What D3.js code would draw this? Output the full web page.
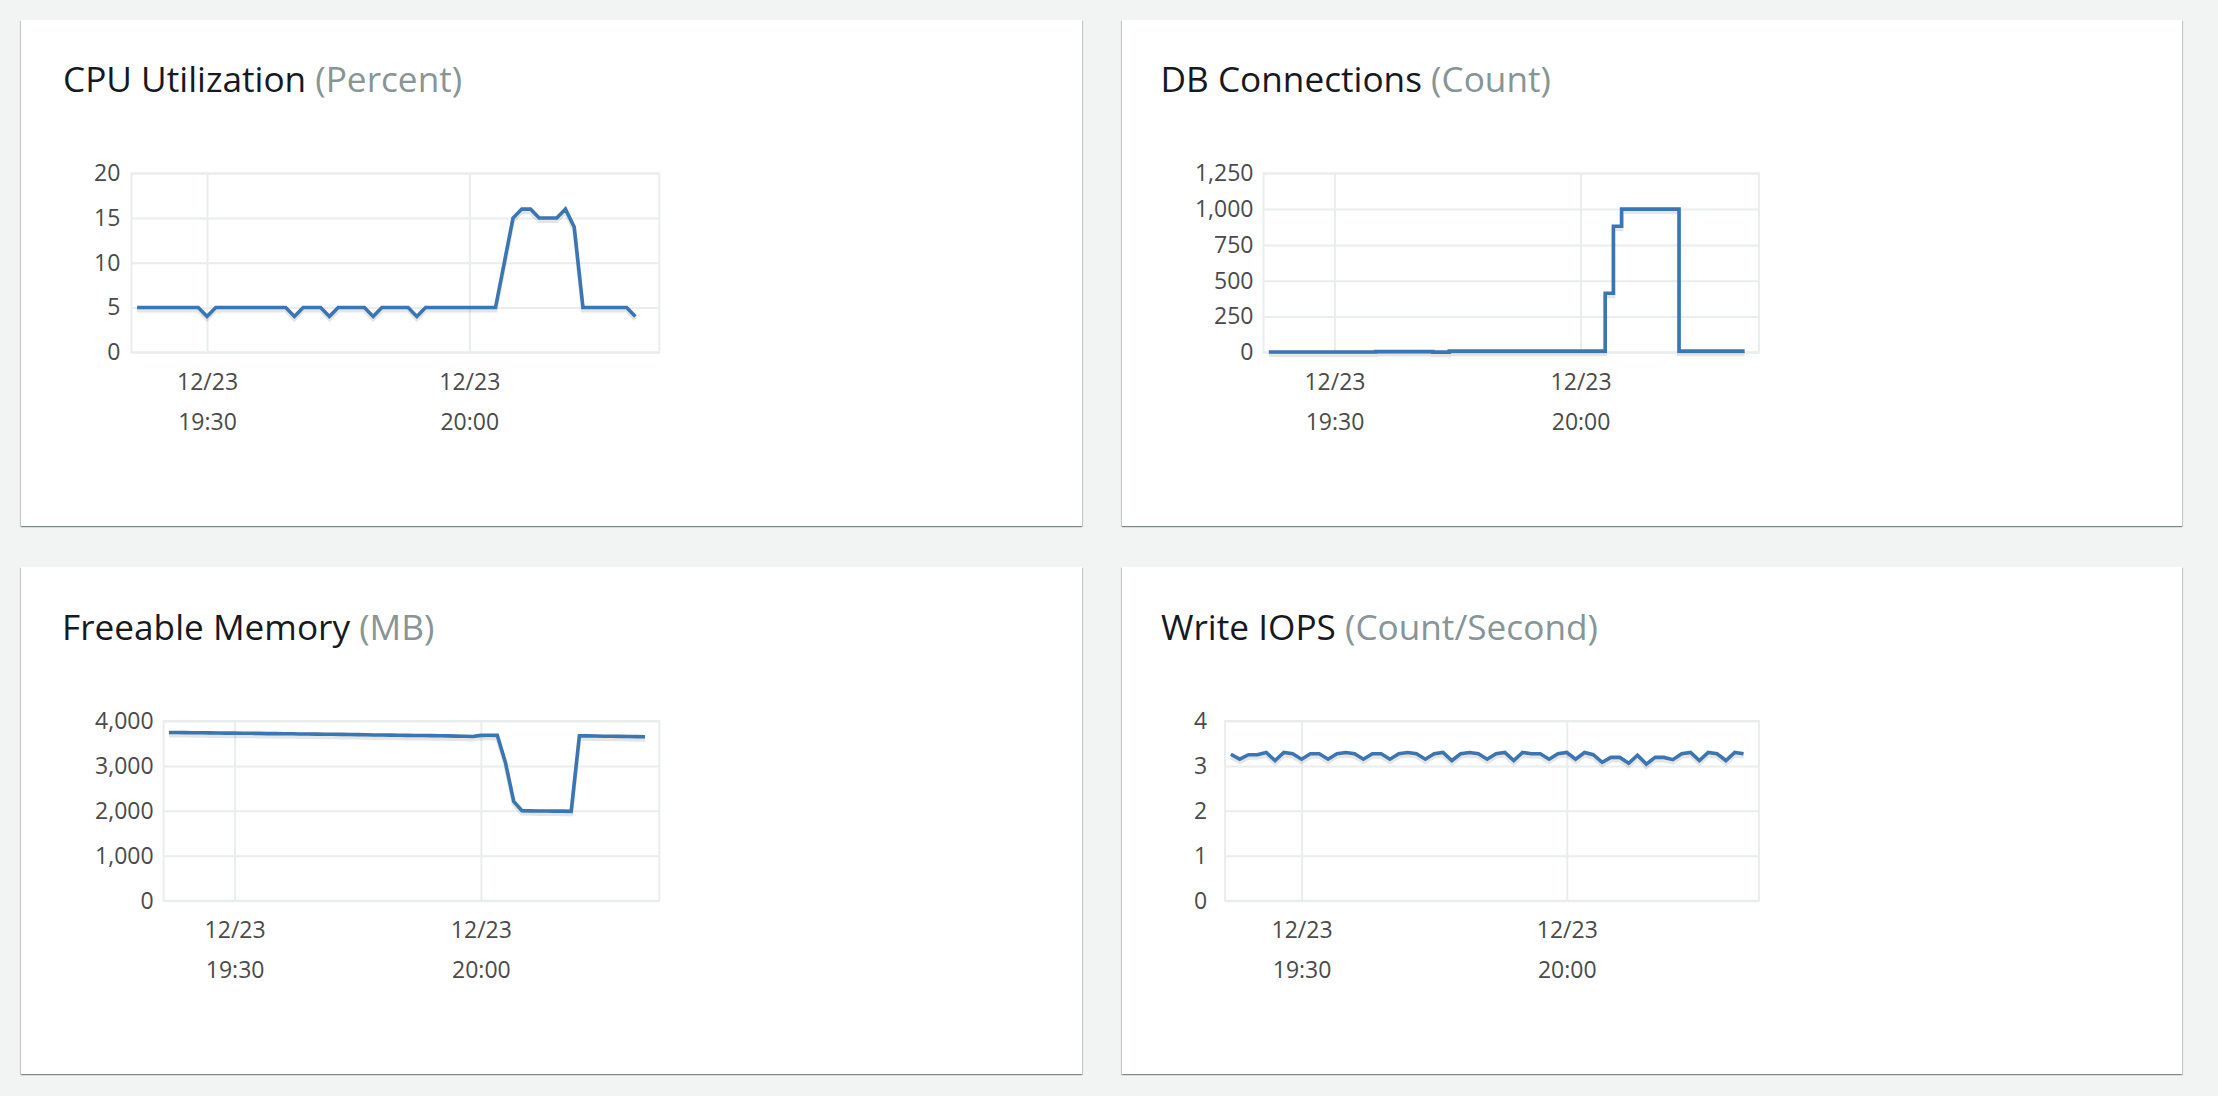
<!DOCTYPE html>
<html><head><meta charset="utf-8">
<script src="https://cdn.jsdelivr.net/npm/d3@7"></script>
<style>
html,body{margin:0;padding:0;background:#f2f3f3;width:2218px;height:1096px;overflow:hidden;font-family:"Open Sans",sans-serif;}
.panel{position:absolute;background:#fff;box-shadow:0 1px 1px 0 rgba(0,28,36,.3),1px 1px 1px 0 rgba(0,28,36,.15),-1px 1px 1px 0 rgba(0,28,36,.15);}
svg{position:absolute;left:0;top:0;}
</style></head><body>
<script>
// ---- data ----
const timeLabels = ["19:22","19:23","19:24","19:25","19:26","19:27","19:28","19:29","19:30","19:31",
"19:32","19:33","19:34","19:35","19:36","19:37","19:38","19:39","19:40","19:41",
"19:42","19:43","19:44","19:45","19:46","19:47","19:48","19:49","19:50","19:51",
"19:52","19:53","19:54","19:55","19:56","19:57","19:58","19:59","20:00","20:01",
"20:02","20:03","20:04","20:05","20:06","20:07","20:08","20:09","20:10","20:11",
"20:12","20:13","20:14","20:15","20:16","20:17","20:18","20:19","20:20"];

const cpuValues = [5,5,5,5,5,5,5,5,4,5,5,5,5,5,5,5,5,5,4,5,5,5,4,5,5,5,5,4,5,5,5,5,4,5,5,5,5,5,5,5,5,5,10,15,16,16,15,15,15,16,14,5,5,5,5,5,5,4];
const dbValues = [2,2,2,2,2,2,2,2,2,2,2,2,2,5,5,5,5,5,5,5,1,1,8,8,8,8,8,8,8,8,8,8,8,8,8,8,8,8,8,8,8,412,880,1000,1000,1000,1000,1000,1000,1000,8,8,8,8,8,8,8,8,8];
const memValues = [3745,3745,3742,3740,3738,3735,3733,3730,3730,3728,3726,3724,3720,3718,3716,3715,3712,3710,3708,3706,3704,3702,3700,3697,3694,3690,3688,3686,3684,3680,3678,3676,3674,3672,3668,3664,3660,3656,3680,3682,3680,3070,2210,2005,2000,1998,1996,1995,1993,1990,3670,3668,3665,3662,3660,3658,3655,3652,3648];
const iopsValues = [3.26,3.15,3.25,3.25,3.30,3.12,3.30,3.27,3.15,3.27,3.27,3.15,3.27,3.30,3.27,3.15,3.27,3.27,3.15,3.27,3.30,3.27,3.15,3.27,3.30,3.12,3.27,3.30,3.27,3.15,3.27,3.30,3.12,3.30,3.27,3.27,3.15,3.27,3.30,3.15,3.30,3.25,3.08,3.19,3.19,3.06,3.24,3.04,3.19,3.19,3.14,3.27,3.30,3.12,3.30,3.27,3.12,3.30,3.27];

const cpuTicks = [0,5,10,15,20];
const dbTicks = [0,250,500,750,1000,1250];
const memTicks = [0,1000,2000,3000,4000];
const iopsTicks = [0,1,2,3,4];
const xTickLabels = ["19:30","20:00"];
const xDomainLabels = ["19:21:21","20:21:44"];

const titles = ["CPU Utilization","DB Connections","Freeable Memory","Write IOPS"];
const units = ["(Percent)","(Count)","(MB)","(Count/Second)"];

// ---- layout ----
const W = 2218, H = 1096;
const panels = [
  {x:21, y:20, w:1061, h:506},
  {x:1122, y:20, w:1060, h:506},
  {x:21, y:567, w:1061, h:507},
  {x:1122, y:567, w:1060, h:507}
];
panels.forEach(p => {
  d3.select("body").append("div").attr("class","panel")
    .style("left",p.x+"px").style("top",p.y+"px").style("width",p.w+"px").style("height",p.h+"px");
});

const parseT = d3.timeParse("%Y-%m-%d %H:%M:%S");
const toDate = s => parseT("2020-12-23 " + (s.length===5 ? s+":00" : s));
const times = timeLabels.map(toDate);

const charts = [
  {title:titles[0], unit:units[0], values:cpuValues, ticks:cpuTicks, fmt:d3.format("d"),
   tx:63, ty:92.3, l:131.4, r:659.3, t:173.3, b:352.3, pad:11, curve:d3.curveLinear},
  {title:titles[1], unit:units[1], values:dbValues, ticks:dbTicks, fmt:d3.format(",d"),
   tx:1160.5, ty:92.3, l:1263.5, r:1758.9, t:173.3, b:352.3, pad:10, curve:d3.curveStepAfter},
  {title:titles[2], unit:units[2], values:memValues, ticks:memTicks, fmt:d3.format(",d"),
   tx:62, ty:639.5, l:163.6, r:659.3, t:721, b:900.7, pad:10, curve:d3.curveLinear},
  {title:titles[3], unit:units[3], values:iopsValues, ticks:iopsTicks, fmt:d3.format("d"),
   tx:1161, ty:639.5, l:1225.1, r:1758.9, t:721, b:900.7, pad:18, curve:d3.curveLinear}
];

const svg = d3.select("body").append("svg").attr("width",W).attr("height",H);
const gridColor = "#eaeded";
const lineColor = "#3a76b2";
const tickColor = "#4a4a4a";

charts.forEach(c => {
  const tt = svg.append("text").attr("x",c.tx).attr("y",c.ty)
    .style("font-family","'Open Sans', sans-serif").style("font-size","35.2px");
  tt.append("tspan").attr("fill","#16191f").text(c.title);
  tt.append("tspan").attr("fill","#879596").text(" " + c.unit);

  const x = d3.scaleTime().domain(xDomainLabels.map(toDate)).range([c.l, c.r]);
  const y = d3.scaleLinear().domain([c.ticks[0], c.ticks[c.ticks.length-1]]).range([c.b, c.t]);
  const w = c.r - c.l, h = c.b - c.t;

  const ya = svg.append("g").attr("transform",`translate(${c.l},0)`)
    .call(d3.axisLeft(y).tickValues(c.ticks).tickFormat(c.fmt).tickSize(-w).tickPadding(c.pad));
  ya.select(".domain").remove();
  ya.selectAll(".tick line").attr("stroke",gridColor).attr("stroke-width",2);
  ya.selectAll(".tick text").attr("fill",tickColor)
    .style("font-family","'Open Sans', sans-serif").style("font-size","23px");

  const xt = xTickLabels.map(toDate);
  const xa = svg.append("g").attr("transform",`translate(0,${c.b})`)
    .call(d3.axisBottom(x).tickValues(xt).tickSize(-h).tickFormat(""));
  xa.select(".domain").remove();
  xa.selectAll(".tick line").attr("stroke",gridColor).attr("stroke-width",2);
  xa.selectAll(".tick").each(function(d){
    const g = d3.select(this);
    g.append("text").attr("y",37.7).attr("text-anchor","middle").attr("fill",tickColor)
      .style("font-family","'Open Sans', sans-serif").style("font-size","23px")
      .text(d3.timeFormat("%m/%d")(d));
    g.append("text").attr("y",77.7).attr("text-anchor","middle").attr("fill",tickColor)
      .style("font-family","'Open Sans', sans-serif").style("font-size","23px")
      .text(d3.timeFormat("%H:%M")(d));
  });

  svg.append("rect").attr("x",c.l).attr("y",c.t).attr("width",w).attr("height",h)
    .attr("fill","none").attr("stroke",gridColor).attr("stroke-width",2);

  const pts = c.values.map((v,i)=>[times[i], v]);
  const line = d3.line().x(d=>x(d[0])).y(d=>y(d[1])).curve(c.curve);
  svg.append("path").attr("d",line(pts)).attr("transform","translate(0,3)")
    .attr("fill","none").attr("stroke","#000").attr("stroke-opacity",0.1).attr("stroke-width",4);
  svg.append("path").attr("d",line(pts))
    .attr("fill","none").attr("stroke",lineColor).attr("stroke-width",3.6)
    .attr("stroke-linejoin","miter");
});
</script>
</body></html>
